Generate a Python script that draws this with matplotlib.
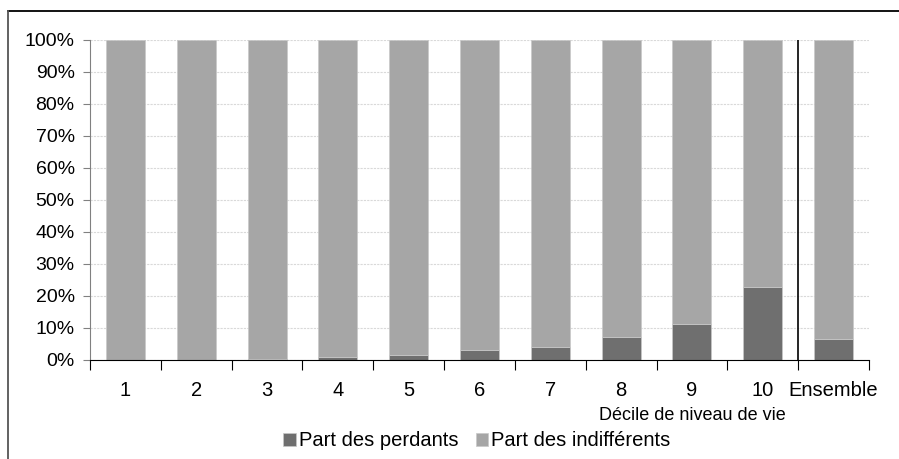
import matplotlib.pyplot as plt
from matplotlib.lines import Line2D

categories = ['1', '2', '3', '4', '5', '6', '7', '8', '9', '10', 'Ensemble']
perdants = [0.0, 0.0, 0.3, 0.9, 1.7, 3.0, 4.0, 7.1, 11.3, 22.9, 6.7]
indifferents = [100 - p for p in perdants]

plt.rcParams['font.family'] = ['Liberation Sans', 'DejaVu Sans']
fs = 14

fig = plt.figure(figsize=(8.99, 4.59), dpi=100)
ax = fig.add_axes([90 / 899, 1 - 360 / 459, 779 / 899, 320 / 459])

x = list(range(len(categories)))
dark = '#6f6f6f'
light = '#a6a6a6'
ax.bar(x, [p / 100 for p in perdants], width=0.55, color=dark,
       edgecolor='#c8c8c8', linewidth=0.5, label='Part des perdants', zorder=2)
ax.bar(x, [v / 100 for v in indifferents], width=0.55,
       bottom=[p / 100 for p in perdants], color=light,
       edgecolor='#c8c8c8', linewidth=0.5, label='Part des indifférents', zorder=2)

ax.set_xlim(-0.5, len(categories) - 0.5)
ax.set_ylim(0, 1)
ax.set_yticks([i / 10 for i in range(11)])
ax.set_yticklabels([f'{i * 10}%' for i in range(11)], fontsize=fs)
ax.yaxis.grid(True, color='#d9d9d9', linestyle=(0, (2, 1)), linewidth=0.8, zorder=0)

ax.set_xticks([i - 0.5 for i in range(len(categories) + 1)])
ax.set_xticklabels([])
ax.set_xticks(x, minor=True)
ax.set_xticklabels(categories, minor=True, fontsize=14.5)
ax.tick_params(axis='x', which='major', length=7, direction='out', color='black')
ax.tick_params(axis='x', which='minor', length=0, pad=15)
ax.tick_params(axis='y', length=5, color='#808080', pad=6)

ax.axvline(9.5, ymin=0, ymax=1, color='black', linewidth=1.2, zorder=3)

for s in ['top', 'right']:
    ax.spines[s].set_visible(False)
ax.spines['left'].set_color('#808080')
ax.spines['bottom'].set_color('black')

fig.text(786 / 899, 1 - 416 / 459, 'Décile de niveau de vie', ha='right',
         va='center', fontsize=13)

fig.legend(loc='center', bbox_to_anchor=(477 / 899, 1 - 441 / 459), ncol=2,
           frameon=False, fontsize=14.5, handlelength=0.6, handleheight=0.6,
           handletextpad=0.15, columnspacing=0.9)

# cadre
fig.add_artist(Line2D([8 / 899, 1], [1 - 11 / 459, 1 - 11 / 459],
                      transform=fig.transFigure, color='black', linewidth=1.3))
fig.add_artist(Line2D([8 / 899, 8 / 899], [0, 1 - 11 / 459],
                      transform=fig.transFigure, color='#555555', linewidth=1.3))

fig.savefig('out.png', dpi=100)
